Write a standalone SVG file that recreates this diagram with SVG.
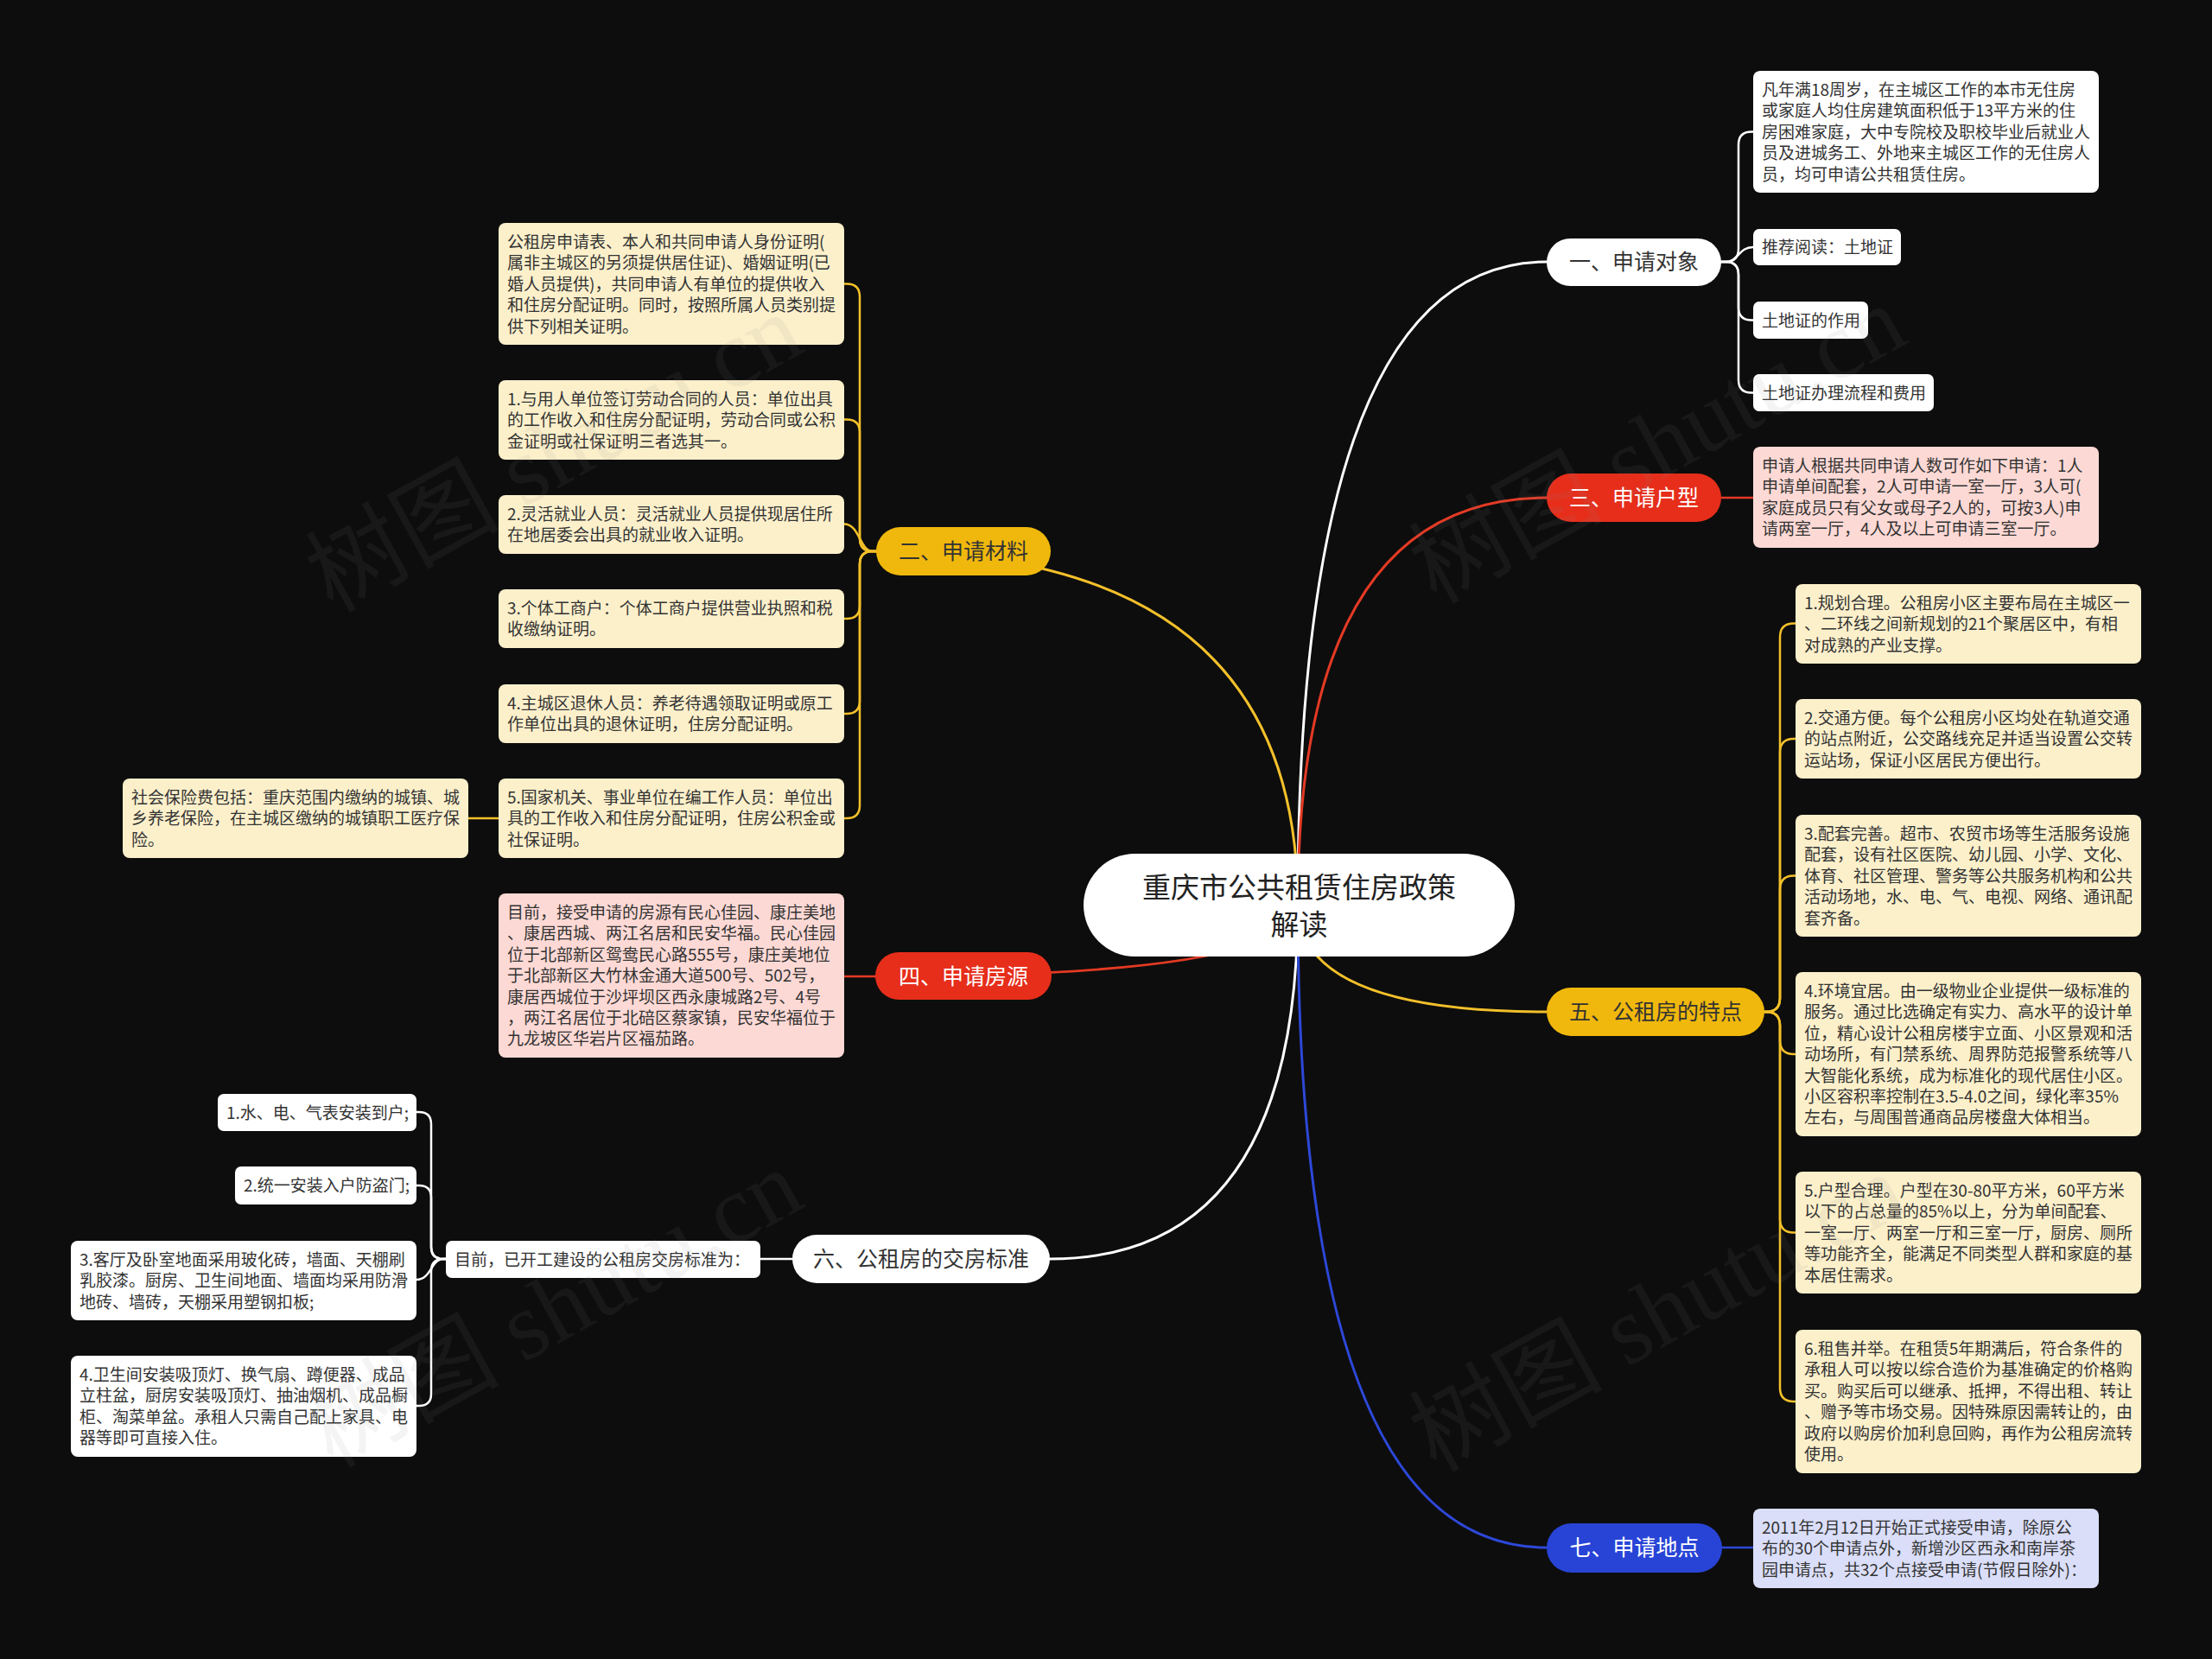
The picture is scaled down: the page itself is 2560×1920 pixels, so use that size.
<svg xmlns="http://www.w3.org/2000/svg" width="2560" height="1920" viewBox="0 0 2560 1920">
<style>
text{font-family:"Noto Sans CJK SC","Noto Sans",sans-serif;}
.leaf{font-size:19px;fill:#333;}
.br{font-size:25px;text-anchor:middle;}
.dark{fill:#333;}
.light{fill:#fff;}
.w{fill:#ffffff;}
.y{fill:#fcf0cb;}
.p{fill:#fdd9d5;}
.b{fill:#dadef8;}
.c{fill:none;stroke-width:3;stroke-linecap:round;}
.s{fill:none;stroke-width:2.5;stroke-linecap:round;}
.cw{stroke:#ffffff;}
.cy{stroke:#f3c02a;}
.cr{stroke:#e43a24;}
.cb{stroke:#2d48d8;}
.wm{font-family:"Liberation Serif","Noto Sans CJK SC",serif;font-size:112px;fill:#8a8a8a;opacity:0.09;text-anchor:middle;}
</style>
<rect x="0" y="0" width="2560" height="1920" fill="#0d0d0d"/>

<g id="connectors">
  <path class="c cw" d="M1502,1047 Q1502,303 1790,303"/>
  <path class="c cy" d="M1502,1047 Q1502,638 1014,638"/>
  <path class="c cr" d="M1502,1047 Q1502,576 1790,576"/>
  <path class="c cr" d="M1502,1047 Q1502,1130 1013,1130"/>
  <path class="c cy" d="M1502,1047 Q1502,1171 1790,1171"/>
  <path class="c cw" d="M1502,1047 Q1502,1457 1215,1457"/>
  <path class="c cb" d="M1502,1047 Q1502,1791 1790,1791"/>

  <path class="s cw" d="M1992,303 H1997 Q2012,303 2012,288 V167.5 Q2012,152.5 2027,152.5 H2029"/>
  <path class="s cw" d="M1992,303 H1997 C2012,303 2012,286 2029,286"/>
  <path class="s cw" d="M1992,303 H1997 Q2012,303 2012,318 V355.5 Q2012,370.5 2027,370.5 H2029"/>
  <path class="s cw" d="M1992,303 H1997 Q2012,303 2012,318 V439.5 Q2012,454.5 2027,454.5 H2029"/>

  <path class="s cr" d="M1992,576 H2029"/>

  <path class="s cy" d="M2042,1171 H2044 Q2060,1171 2060,1155 V737.5 Q2060,721.5 2076,721.5 H2078"/>
  <path class="s cy" d="M2042,1171 H2044 Q2060,1171 2060,1155 V871 Q2060,855 2076,855 H2078"/>
  <path class="s cy" d="M2042,1171 H2044 Q2060,1171 2060,1155 V1029.5 Q2060,1013.5 2076,1013.5 H2078"/>
  <path class="s cy" d="M2042,1171 H2044 Q2060,1171 2060,1187 V1204 Q2060,1220 2076,1220 H2078"/>
  <path class="s cy" d="M2042,1171 H2044 Q2060,1171 2060,1187 V1410.5 Q2060,1426.5 2076,1426.5 H2078"/>
  <path class="s cy" d="M2042,1171 H2044 Q2060,1171 2060,1187 V1606 Q2060,1622 2076,1622 H2078"/>

  <path class="s cb" d="M1993,1791 H2029"/>

  <path class="s cy" d="M1014,638 H1010 Q995,638 995,623 V343.5 Q995,328.5 980,328.5 H977"/>
  <path class="s cy" d="M1014,638 H1010 Q995,638 995,623 V500.5 Q995,485.5 980,485.5 H977"/>
  <path class="s cy" d="M1014,638 H1010 C995,638 995,606.5 977,606.5"/>
  <path class="s cy" d="M1014,638 H1010 Q995,638 995,653 V701 Q995,716 980,716 H977"/>
  <path class="s cy" d="M1014,638 H1010 Q995,638 995,653 V811 Q995,826 980,826 H977"/>
  <path class="s cy" d="M1014,638 H1010 Q995,638 995,653 V932 Q995,947 980,947 H977"/>
  <path class="s cy" d="M577,947 H542"/>

  <path class="s cr" d="M1013,1130 H977"/>

  <path class="s cw" d="M917,1457 H880"/>
  <path class="s cw" d="M516,1457 H513 Q499,1457 499,1443 V1301 Q499,1287 485,1287 H482"/>
  <path class="s cw" d="M516,1457 H513 Q499,1457 499,1443 V1386 Q499,1372 485,1372 H482"/>
  <path class="s cw" d="M516,1457 H513 C499,1457 499,1481 482,1481"/>
  <path class="s cw" d="M516,1457 H513 Q499,1457 499,1471 V1613 Q499,1627 485,1627 H482"/>
</g>

<g id="center">
  <rect x="1254" y="988" width="499" height="119" rx="59.5" fill="#ffffff"/>
  <text x="1503.5" y="1039" font-size="33" fill="#222" text-anchor="middle">重庆市公共租赁住房政策</text>
  <text x="1503.5" y="1082" font-size="33" fill="#222" text-anchor="middle">解读</text>
</g>

<g id="b1">
  <rect x="1790" y="276" width="202" height="55" rx="27.5" fill="#ffffff"/>
  <text class="br dark" x="1891" y="312">一、申请对象</text>
</g>
<g id="b2">
  <rect x="1014" y="610" width="202" height="56" rx="28" fill="#f0b80c"/>
  <text class="br dark" x="1115" y="647">二、申请材料</text>
</g>
<g id="b3">
  <rect x="1790" y="548" width="202" height="56" rx="28" fill="#e62e1b"/>
  <text class="br light" x="1891" y="585">三、申请户型</text>
</g>
<g id="b4">
  <rect x="1013" y="1102" width="204" height="55" rx="27.5" fill="#e62e1b"/>
  <text class="br light" x="1115" y="1139">四、申请房源</text>
</g>
<g id="b5">
  <rect x="1790" y="1143" width="252" height="56" rx="28" fill="#f0b80c"/>
  <text class="br dark" x="1916" y="1180">五、公租房的特点</text>
</g>
<g id="b6">
  <rect x="917" y="1429" width="298" height="56" rx="28" fill="#ffffff"/>
  <text class="br dark" x="1066" y="1466">六、公租房的交房标准</text>
</g>
<g id="b7">
  <rect x="1790" y="1763" width="203" height="57" rx="28.5" fill="#2844d6"/>
  <text class="br light" x="1891.5" y="1800">七、申请地点</text>
</g>

<g id="l1a">
  <rect class="w" x="2029" y="82" width="400" height="141" rx="8"/>
  <text class="leaf"><tspan x="2039" y="111">凡年满18周岁，在主城区工作的本市无住房</tspan><tspan x="2039" y="135.4">或家庭人均住房建筑面积低于13平方米的住</tspan><tspan x="2039" y="159.8">房困难家庭，大中专院校及职校毕业后就业人</tspan><tspan x="2039" y="184.2">员及进城务工、外地来主城区工作的无住房人</tspan><tspan x="2039" y="208.6">员，均可申请公共租赁住房。</tspan></text>
</g>
<g id="l1b">
  <rect class="w" x="2029" y="265" width="171" height="42" rx="7"/>
  <text class="leaf" x="2039" y="293">推荐阅读：土地证</text>
</g>
<g id="l1c">
  <rect class="w" x="2029" y="349" width="133" height="43" rx="7"/>
  <text class="leaf" x="2039" y="377.5">土地证的作用</text>
</g>
<g id="l1d">
  <rect class="w" x="2029" y="433" width="209" height="43" rx="7"/>
  <text class="leaf" x="2039" y="461.5">土地证办理流程和费用</text>
</g>

<g id="l3">
  <rect class="p" x="2029" y="517" width="400" height="117" rx="8"/>
  <text class="leaf"><tspan x="2039" y="546">申请人根据共同申请人数可作如下申请：1人</tspan><tspan x="2039" y="570.4">申请单间配套，2人可申请一室一厅，3人可(</tspan><tspan x="2039" y="594.8">家庭成员只有父女或母子2人的，可按3人)申</tspan><tspan x="2039" y="619.2">请两室一厅，4人及以上可申请三室一厅。</tspan></text>
</g>

<g id="l5a">
  <rect class="y" x="2078" y="676" width="400" height="92" rx="8"/>
  <text class="leaf"><tspan x="2088" y="705">1.规划合理。公租房小区主要布局在主城区一</tspan><tspan x="2088" y="729.4">、二环线之间新规划的21个聚居区中，有相</tspan><tspan x="2088" y="753.8">对成熟的产业支撑。</tspan></text>
</g>
<g id="l5b">
  <rect class="y" x="2078" y="809" width="400" height="92" rx="8"/>
  <text class="leaf"><tspan x="2088" y="838">2.交通方便。每个公租房小区均处在轨道交通</tspan><tspan x="2088" y="862.4">的站点附近，公交路线充足并适当设置公交转</tspan><tspan x="2088" y="886.8">运站场，保证小区居民方便出行。</tspan></text>
</g>
<g id="l5c">
  <rect class="y" x="2078" y="943" width="400" height="141" rx="8"/>
  <text class="leaf"><tspan x="2088" y="972">3.配套完善。超市、农贸市场等生活服务设施</tspan><tspan x="2088" y="996.4">配套，设有社区医院、幼儿园、小学、文化、</tspan><tspan x="2088" y="1020.8">体育、社区管理、警务等公共服务机构和公共</tspan><tspan x="2088" y="1045.2">活动场地，水、电、气、电视、网络、通讯配</tspan><tspan x="2088" y="1069.6">套齐备。</tspan></text>
</g>
<g id="l5d">
  <rect class="y" x="2078" y="1125" width="400" height="190" rx="8"/>
  <text class="leaf"><tspan x="2088" y="1154">4.环境宜居。由一级物业企业提供一级标准的</tspan><tspan x="2088" y="1178.4">服务。通过比选确定有实力、高水平的设计单</tspan><tspan x="2088" y="1202.8">位，精心设计公租房楼宇立面、小区景观和活</tspan><tspan x="2088" y="1227.2">动场所，有门禁系统、周界防范报警系统等八</tspan><tspan x="2088" y="1251.6">大智能化系统，成为标准化的现代居住小区。</tspan><tspan x="2088" y="1276">小区容积率控制在3.5-4.0之间，绿化率35%</tspan><tspan x="2088" y="1300.4">左右，与周围普通商品房楼盘大体相当。</tspan></text>
</g>
<g id="l5e">
  <rect class="y" x="2078" y="1356" width="400" height="141" rx="8"/>
  <text class="leaf"><tspan x="2088" y="1385">5.户型合理。户型在30-80平方米，60平方米</tspan><tspan x="2088" y="1409.4">以下的占总量的85%以上，分为单间配套、</tspan><tspan x="2088" y="1433.8">一室一厅、两室一厅和三室一厅，厨房、厕所</tspan><tspan x="2088" y="1458.2">等功能齐全，能满足不同类型人群和家庭的基</tspan><tspan x="2088" y="1482.6">本居住需求。</tspan></text>
</g>
<g id="l5f">
  <rect class="y" x="2078" y="1539" width="400" height="166" rx="8"/>
  <text class="leaf"><tspan x="2088" y="1568">6.租售并举。在租赁5年期满后，符合条件的</tspan><tspan x="2088" y="1592.4">承租人可以按以综合造价为基准确定的价格购</tspan><tspan x="2088" y="1616.8">买。购买后可以继承、抵押，不得出租、转让</tspan><tspan x="2088" y="1641.2">、赠予等市场交易。因特殊原因需转让的，由</tspan><tspan x="2088" y="1665.6">政府以购房价加利息回购，再作为公租房流转</tspan><tspan x="2088" y="1690">使用。</tspan></text>
</g>

<g id="l7">
  <rect class="b" x="2029" y="1746" width="400" height="92" rx="8"/>
  <text class="leaf"><tspan x="2039" y="1775">2011年2月12日开始正式接受申请，除原公</tspan><tspan x="2039" y="1799.4">布的30个申请点外，新增沙区西永和南岸茶</tspan><tspan x="2039" y="1823.8">园申请点，共32个点接受申请(节假日除外)：</tspan></text>
</g>

<g id="l2a">
  <rect class="y" x="577" y="258" width="400" height="141" rx="8"/>
  <text class="leaf"><tspan x="587" y="287">公租房申请表、本人和共同申请人身份证明(</tspan><tspan x="587" y="311.4">属非主城区的另须提供居住证)、婚姻证明(已</tspan><tspan x="587" y="335.8">婚人员提供)，共同申请人有单位的提供收入</tspan><tspan x="587" y="360.2">和住房分配证明。同时，按照所属人员类别提</tspan><tspan x="587" y="384.6">供下列相关证明。</tspan></text>
</g>
<g id="l2b">
  <rect class="y" x="577" y="440" width="400" height="92" rx="8"/>
  <text class="leaf"><tspan x="587" y="469">1.与用人单位签订劳动合同的人员：单位出具</tspan><tspan x="587" y="493.4">的工作收入和住房分配证明，劳动合同或公积</tspan><tspan x="587" y="517.8">金证明或社保证明三者选其一。</tspan></text>
</g>
<g id="l2c">
  <rect class="y" x="577" y="573" width="400" height="68" rx="8"/>
  <text class="leaf"><tspan x="587" y="602">2.灵活就业人员：灵活就业人员提供现居住所</tspan><tspan x="587" y="626.4">在地居委会出具的就业收入证明。</tspan></text>
</g>
<g id="l2d">
  <rect class="y" x="577" y="682" width="400" height="68" rx="8"/>
  <text class="leaf"><tspan x="587" y="711">3.个体工商户：个体工商户提供营业执照和税</tspan><tspan x="587" y="735.4">收缴纳证明。</tspan></text>
</g>
<g id="l2e">
  <rect class="y" x="577" y="792" width="400" height="68" rx="8"/>
  <text class="leaf"><tspan x="587" y="821">4.主城区退休人员：养老待遇领取证明或原工</tspan><tspan x="587" y="845.4">作单位出具的退休证明，住房分配证明。</tspan></text>
</g>
<g id="l2f">
  <rect class="y" x="577" y="901" width="400" height="92" rx="8"/>
  <text class="leaf"><tspan x="587" y="930">5.国家机关、事业单位在编工作人员：单位出</tspan><tspan x="587" y="954.4">具的工作收入和住房分配证明，住房公积金或</tspan><tspan x="587" y="978.8">社保证明。</tspan></text>
</g>
<g id="l2g">
  <rect class="y" x="142" y="901" width="400" height="92" rx="8"/>
  <text class="leaf"><tspan x="152" y="930">社会保险费包括：重庆范围内缴纳的城镇、城</tspan><tspan x="152" y="954.4">乡养老保险，在主城区缴纳的城镇职工医疗保</tspan><tspan x="152" y="978.8">险。</tspan></text>
</g>

<g id="l4">
  <rect class="p" x="577" y="1034" width="400" height="190" rx="8"/>
  <text class="leaf"><tspan x="587" y="1063">目前，接受申请的房源有民心佳园、康庄美地</tspan><tspan x="587" y="1087.4">、康居西城、两江名居和民安华福。民心佳园</tspan><tspan x="587" y="1111.8">位于北部新区鸳鸯民心路555号，康庄美地位</tspan><tspan x="587" y="1136.2">于北部新区大竹林金通大道500号、502号，</tspan><tspan x="587" y="1160.6">康居西城位于沙坪坝区西永康城路2号、4号</tspan><tspan x="587" y="1185">，两江名居位于北碚区蔡家镇，民安华福位于</tspan><tspan x="587" y="1209.4">九龙坡区华岩片区福茄路。</tspan></text>
</g>

<g id="l6m">
  <rect class="w" x="516" y="1436" width="364" height="43" rx="7"/>
  <text class="leaf" x="526" y="1464.5">目前，已开工建设的公租房交房标准为：</text>
</g>
<g id="l6a">
  <rect class="w" x="252" y="1266" width="230" height="43" rx="7"/>
  <text class="leaf" x="262" y="1294.5">1.水、电、气表安装到户;</text>
</g>
<g id="l6b">
  <rect class="w" x="272" y="1350" width="210" height="44" rx="7"/>
  <text class="leaf" x="282" y="1379">2.统一安装入户防盗门;</text>
</g>
<g id="l6c">
  <rect class="w" x="82" y="1436" width="400" height="92" rx="8"/>
  <text class="leaf"><tspan x="92" y="1465">3.客厅及卧室地面采用玻化砖，墙面、天棚刷</tspan><tspan x="92" y="1489.4">乳胶漆。厨房、卫生间地面、墙面均采用防滑</tspan><tspan x="92" y="1513.8">地砖、墙砖，天棚采用塑钢扣板;</tspan></text>
</g>
<g id="l6d">
  <rect class="w" x="82" y="1569" width="400" height="117" rx="8"/>
  <text class="leaf"><tspan x="92" y="1598">4.卫生间安装吸顶灯、换气扇、蹲便器、成品</tspan><tspan x="92" y="1622.4">立柱盆，厨房安装吸顶灯、抽油烟机、成品橱</tspan><tspan x="92" y="1646.8">柜、淘菜单盆。承租人只需自己配上家具、电</tspan><tspan x="92" y="1671.2">器等即可直接入住。</tspan></text>
</g>

<g id="watermarks">
  <text class="wm" transform="rotate(-29 650 540)" x="650" y="560">树图 shutu.cn</text>
  <text class="wm" transform="rotate(-29 1927 530)" x="1927" y="550">树图 shutu.cn</text>
  <text class="wm" transform="rotate(-29 650 1530)" x="650" y="1550">树图 shutu.cn</text>
  <text class="wm" transform="rotate(-29 1927 1535)" x="1927" y="1555">树图 shutu.cn</text>
</g>
</svg>
